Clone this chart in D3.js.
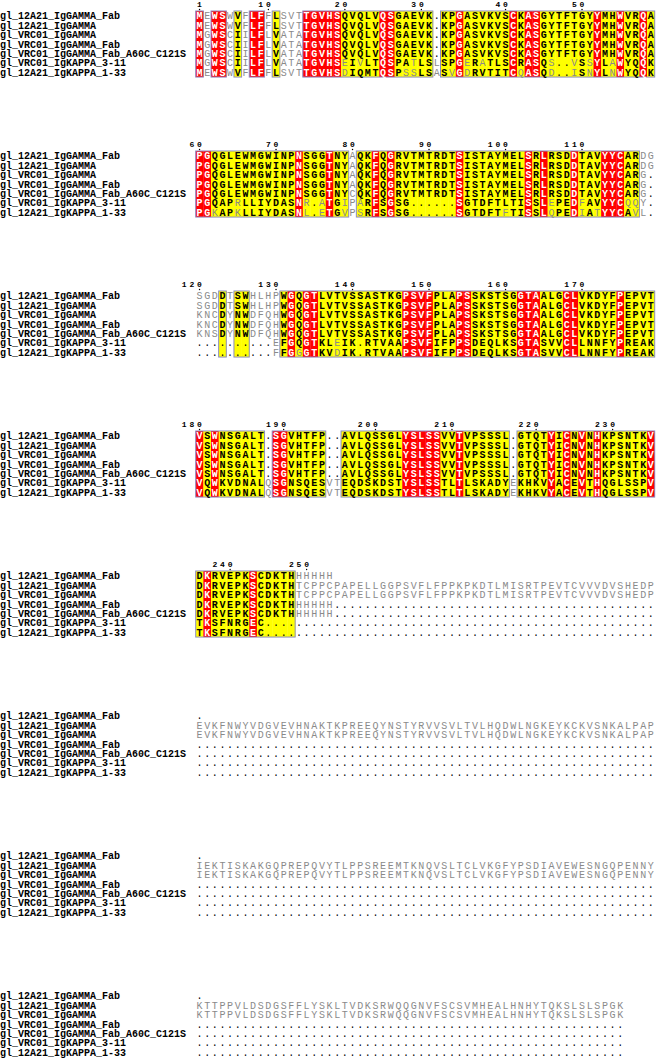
<!DOCTYPE html>
<html>
<head>
<meta charset="utf-8">
<script src="https://cdnjs.cloudflare.com/ajax/libs/d3/7.8.5/d3.min.js"></script>
<style>
body { margin: 0; background: #fff; }
</style>
</head>
<body>
<div id="aln"></div>
<script>
let names = [
    "gl_12A21_IgGAMMA_Fab",
    "gl_12A21_IgGAMMA",
    "gl_VRC01_IgGAMMA",
    "gl_VRC01_IgGAMMA_Fab",
    "gl_VRC01_IgGAMMA_Fab_A60C_C121S",
    "gl_VRC01_IgKAPPA_3-11",
    "gl_12A21_IgKAPPA_1-33"
];

const D60 = ".".repeat(60);
const D56 = ".".repeat(56);

// one array per block of 60 alignment columns, rows in the order of names
// (a space means the first sequence has already ended)
let block1 = [
    "MEWSWVFLFFLSVTTGVHSQVQLVQSGAEVK.KPGASVKVSCKASGYTFTGYYMHWVRQA",
    "MEWSWVFLFFLSVTTGVHSQVQLVQSGAEVK.KPGASVKVSCKASGYTFTGYYMHWVRQA",
    "MGWSCIILFLVATATGVHSQVQLVQSGAEVK.KPGASVKVSCKASGYTFTGYYMHWVRQA",
    "MGWSCIILFLVATATGVHSQVQLVQSGAEVK.KPGASVKVSCKASGYTFTGYYMHWVRQA",
    "MGWSCIILFLVATATGVHSQVQLVQSGAEVK.KPGASVKVSCKASGYTFTGYYMHWVRQA",
    "MGWSCIILFLVATATGVHSEIVLTQSPATLSLSPGERATLSCRASQS..VSSYLAWYQQK",
    "MEWSWVFLFFLSVTTGVHSDIQMTQSPSSLSASVGDRVTITCQASQD..ISNYLNWYQQK"
];
let block2 = [
    "PGQGLEWMGWINPNSGGTNYAQKFQGRVTMTRDTSISTAYMELSRLRSDDTAVYYCARDG",
    "PGQGLEWMGWINPNSGGTNYAQKFQGRVTMTRDTSISTAYMELSRLRSDDTAVYYCARDG",
    "PGQGLEWMGWINPNSGGTNYAQKFQGRVTMTRDTSISTAYMELSRLRSDDTAVYYCARG.",
    "PGQGLEWMGWINPNSGGTNYAQKFQGRVTMTRDTSISTAYMELSRLRSDDTAVYYCARG.",
    "PGQGLEWMGWINPNSGGTNYCQKFQGRVTMTRDTSISTAYMELSRLRSDDTAVYYCARG.",
    "PGQAPRLLIYDASNR.ATGIPARFSGSG......SGTDFTLTISSLEPEDFAVYYCQQY.",
    "PGKAPKLLIYDASNL.ETGVPSRFSGSG......SGTDFTFTISSLQPEDIATYYCAVL."
];
let block3 = [
    "SGDDTSWHLHPWGQGTLVTVSSASTKGPSVFPLAPSSKSTSGGTAALGCLVKDYFPEPVT",
    "SGDDTSWHLHPWGQGTLVTVSSASTKGPSVFPLAPSSKSTSGGTAALGCLVKDYFPEPVT",
    "KNCDYNWDFQHWGQGTLVTVSSASTKGPSVFPLAPSSKSTSGGTAALGCLVKDYFPEPVT",
    "KNCDYNWDFQHWGQGTLVTVSSASTKGPSVFPLAPSSKSTSGGTAALGCLVKDYFPEPVT",
    "KNSDYNWDFQHWGQGTLVTVSSASTKGPSVFPLAPSSKSTSGGTAALGCLVKDYFPEPVT",
    "..........EFGQGTKLEIK.RTVAAPSVFIFPPSDEQLKSGTASVVCLLNNFYPREAK",
    "..........FFGGGTKVDIK.RTVAAPSVFIFPPSDEQLKSGTASVVCLLNNFYPREAK"
];
let block4 = [
    "VSWNSGALT.SGVHTFP..AVLQSSGLYSLSSVVTVPSSSL.GTQTYICNVNHKPSNTKV",
    "VSWNSGALT.SGVHTFP..AVLQSSGLYSLSSVVTVPSSSL.GTQTYICNVNHKPSNTKV",
    "VSWNSGALT.SGVHTFP..AVLQSSGLYSLSSVVTVPSSSL.GTQTYICNVNHKPSNTKV",
    "VSWNSGALT.SGVHTFP..AVLQSSGLYSLSSVVTVPSSSL.GTQTYICNVNHKPSNTKV",
    "VSWNSGALT.SGVHTFP..AVLQSSGLYSLSSVVTVPSSSL.GTQTYICNVNHKPSNTKV",
    "VQWKVDNALQSGNSQESVTEQDSKDSTYSLSSTLTLSKADYEKHKVYACEVTHQGLSSPV",
    "VQWKVDNALQSGNSQESVTEQDSKDSTYSLSSTLTLSKADYEKHKVYACEVTHQGLSSPV"
];
let block5 = [
    "DKRVEPKSCDKTHHHHHH" + " ".repeat(42),
    "DKRVEPKSCDKTHTCPPCPAPELLGGPSVFLFPPKPKDTLMISRTPEVTCVVVDVSHEDP",
    "DKRVEPKSCDKTHTCPPCPAPELLGGPSVFLFPPKPKDTLMISRTPEVTCVVVDVSHEDP",
    "DKRVEPKSCDKTHHHHHH" + ".".repeat(42),
    "DKRVEPKSCDKTHHHHHH" + ".".repeat(42),
    "TKSFNRGEC" + ".".repeat(51),
    "TKSFNRGEC" + ".".repeat(51)
];
let block6 = [
    "." + " ".repeat(59),
    "EVKFNWYVDGVEVHNAKTKPREEQYNSTYRVVSVLTVLHQDWLNGKEYKCKVSNKALPAP",
    "EVKFNWYVDGVEVHNAKTKPREEQYNSTYRVVSVLTVLHQDWLNGKEYKCKVSNKALPAP",
    D60, D60, D60, D60
];
let block7 = [
    "." + " ".repeat(59),
    "IEKTISKAKGQPREPQVYTLPPSREEMTKNQVSLTCLVKGFYPSDIAVEWESNGQPENNY",
    "IEKTISKAKGQPREPQVYTLPPSREEMTKNQVSLTCLVKGFYPSDIAVEWESNGQPENNY",
    D60, D60, D60, D60
];
let block8 = [
    "." + " ".repeat(55),
    "KTTPPVLDSDGSFFLYSKLTVDKSRWQQGNVFSCSVMHEALHNHYTQKSLSLSPGK",
    "KTTPPVLDSDGSFFLYSKLTVDKSRWQQGNVFSCSVMHEALHNHYTQKSLSLSPGK",
    D56, D56, D56, D56
];

// column conservation: r = strictly identical (red), y = similar (yellow frame), - = none
let cons1 = "r-rr-y-rr-" + "y---rrrrry" + "yyyyrryyyy" + "y-yyryyyyy" + "yryrryyyyy" + "yyryyryyry";
let cons2 = "rryyyyyyyy" + "yyyryyyryy" + "-yyryryyyy" + "yyyyryyyyy" + "yyyryryyyr" + "yyyrrryy--";
let cons3 = "---y-yy---" + "-yryrryyyy" + "yyyyyyyrrr" + "ryyyrryyyy" + "yyrrryyyrr" + "yyyyyryyyy";
let cons4 = "ryryyyyyy-" + "rryyyyy--y" + "yyyyyyyrrr" + "rryyryyyyy" + "y-yyyyryry" + "ryryyyyyyr";
let cons5 = "yryyyyyryyyy" + "y" + "-".repeat(47);
let cons6 = "-".repeat(60);
let cons7 = "-".repeat(60);
let cons8 = "-".repeat(56);

let blocks = [block1, block2, block3, block4, block5, block6, block7, block8];
let conses = [cons1, cons2, cons3, cons4, cons5, cons6, cons7, cons8];

let colW = 7.65;
let rowH = 9.44;
let seqLeft = 195.7;
let firstRow = 15.7;
let blockStep = 140;
let svgWidth = 656;
let svgHeight = 1060;

let svg = d3.select("#aln")
    .append("svg")
    .attr("width", svgWidth)
    .attr("height", svgHeight);

let RED = "#ff0000";
let YELLOW = "#ffff00";
let FRAME = "#8c8cc4";
let GREY = "#8a8a8a";
let monoFont = "'Courier New', 'Liberation Mono', monospace";

let groupOf = {
    I: "h", L: "h", V: "h", M: "h",
    F: "a", Y: "a", W: "a",
    K: "p", R: "p", H: "p",
    D: "n", E: "n",
    N: "q", Q: "q",
    S: "s", T: "s"
};

// residue numbering follows the first sequence, skipping its gaps
let resNo = 0;

blocks.forEach(function (rows, b) {
    let nCol = rows[0].length;
    let cons = conses[b];
    let top = firstRow - rowH / 2 + b * blockStep;

    let x = d3.scaleBand()
        .domain(d3.range(nCol))
        .range([seqLeft, seqLeft + nCol * colW]);
    let y = d3.scaleBand()
        .domain(d3.range(rows.length))
        .range([top, top + rows.length * rowH]);

    let g = svg.append("g");

    // sequence names
    g.selectAll("text.name")
        .data(names)
        .enter()
        .append("text")
        .attr("class", "name")
        .attr("x", 0)
        .attr("y", (d, i) => y(i) + rowH / 2)
        .attr("dy", "0.35em")
        .attr("font-family", monoFont)
        .attr("font-weight", "bold")
        .attr("font-size", 10)
        .text(d => d);

    // yellow and red columns
    let cols = d3.range(nCol).filter(c => cons[c] !== "-");
    g.selectAll("rect.col")
        .data(cols)
        .enter()
        .append("rect")
        .attr("x", c => x(c))
        .attr("y", top)
        .attr("width", x.bandwidth() + 0.3)
        .attr("height", rows.length * rowH)
        .attr("fill", c => cons[c] === "r" ? RED : YELLOW);

    // frames round every run of conserved columns
    let runs = [];
    let start = null;
    for (let c = 0; c <= nCol; c++) {
        let on = c < nCol && cons[c] !== "-";
        if (on && start === null) start = c;
        if (!on && start !== null) {
            runs.push([start, c - 1]);
            start = null;
        }
    }
    g.selectAll("rect.frame")
        .data(runs)
        .enter()
        .append("rect")
        .attr("x", d => x(d[0]))
        .attr("y", top)
        .attr("width", d => x(d[1]) + x.bandwidth() - x(d[0]))
        .attr("height", rows.length * rowH)
        .attr("fill", "none")
        .attr("stroke", FRAME)
        .attr("stroke-width", 1);

    // residues
    let cells = [];
    rows.forEach(function (seq, r) {
        for (let c = 0; c < nCol; c++) {
            if (seq[c] !== " ") cells.push({ r: r, c: c, ch: seq[c] });
        }
    });

    function strong(d) {
        let column = rows.map(s => s[d.c]).filter(ch => ch !== "." && ch !== " ");
        let counts = d3.rollup(column, v => v.length, ch => ch);
        let top1 = d3.greatest(Array.from(counts), e => e[1])[0];
        if (d.ch === top1) return true;
        if (counts.get(d.ch) >= 2) return true;
        return groupOf[d.ch] !== undefined && groupOf[d.ch] === groupOf[top1];
    }

    g.selectAll("text.res")
        .data(cells)
        .enter()
        .append("text")
        .attr("class", "res")
        .attr("x", d => x(d.c) + x.bandwidth() / 2)
        .attr("y", d => y(d.r) + rowH / 2)
        .attr("dy", "0.35em")
        .attr("text-anchor", "middle")
        .attr("font-family", monoFont)
        .attr("font-size", 10)
        .attr("font-weight", function (d) {
            if (d.ch === ".") return "normal";
            let k = cons[d.c];
            if (k === "r") return "bold";
            if (k === "y" && strong(d)) return "bold";
            return "normal";
        })
        .attr("fill", function (d) {
            if (d.ch === ".") return "#000";
            let k = cons[d.c];
            if (k === "r") return "#fff";
            if (k === "y" && strong(d)) return "#000";
            return GREY;
        })
        .text(d => d.ch);

    // numbering from the first sequence
    let marks = [];
    for (let c = 0; c < nCol; c++) {
        let ch = rows[0][c];
        if (ch === "." || ch === " ") continue;
        resNo++;
        if (resNo === 1 || resNo % 10 === 0) marks.push({ c: c, n: resNo });
    }
    let numG = g.selectAll("g.num")
        .data(marks)
        .enter()
        .append("g")
        .attr("class", "num");
    numG.each(function (d) {
        let digits = String(d.n).split("");
        let sel = d3.select(this);
        digits.forEach(function (dg, k) {
            let cx = x(d.c) + x.bandwidth() / 2 - (digits.length - 1 - k) * colW;
            sel.append("text")
                .attr("x", cx)
                .attr("y", top - 4)
                .attr("text-anchor", "middle")
                .attr("font-family", monoFont)
                .attr("font-weight", "bold")
                .attr("font-size", 8)
                .text(dg);
        });
        sel.append("circle")
            .attr("cx", x(d.c) + x.bandwidth() / 2)
            .attr("cy", top - 1.5)
            .attr("r", 0.7)
            .attr("fill", "#000");
    });
});
</script>
</body>
</html>
